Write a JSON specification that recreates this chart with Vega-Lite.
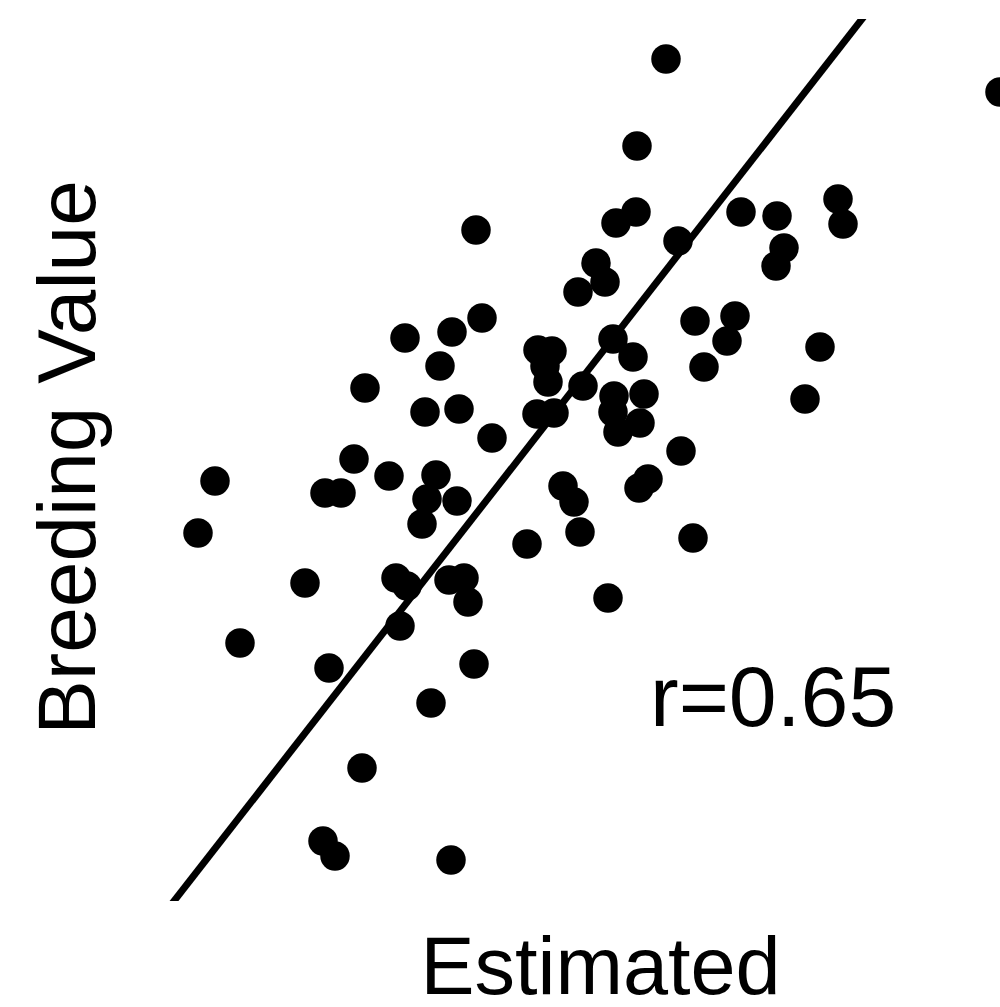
{
  "$schema": "https://vega.github.io/schema/vega-lite/v6.json",
  "autosize": {"type": "none"},
  "width": 834,
  "height": 882,
  "padding": {"left": 166, "top": 19, "right": 0, "bottom": 106},
  "background": "white",
  "config": {"view": {"stroke": null}},
  "layer": [
    {
      "data": {"values": [
        {"est": 0.66, "bv": 4.01}, {"est": 4.00, "bv": 3.68}, {"est": 0.37, "bv": 3.14}, {"est": 2.38, "bv": 2.61},
        {"est": 2.43, "bv": 2.36}, {"est": 1.41, "bv": 2.48}, {"est": 1.77, "bv": 2.44}, {"est": 1.84, "bv": 2.12},
        {"est": 1.76, "bv": 1.94}, {"est": 0.36, "bv": 2.48}, {"est": 0.16, "bv": 2.37}, {"est": 0.78, "bv": 2.19},
        {"est": -1.24, "bv": 2.30}, {"est": -0.04, "bv": 1.97}, {"est": 0.05, "bv": 1.78}, {"est": -0.22, "bv": 1.68},
        {"est": -1.18, "bv": 1.42}, {"est": -1.48, "bv": 1.28}, {"est": -1.95, "bv": 1.22}, {"est": -1.60, "bv": 0.94},
        {"est": -2.35, "bv": 0.72}, {"est": 0.95, "bv": 1.39}, {"est": 1.35, "bv": 1.44}, {"est": 1.27, "bv": 1.19},
        {"est": 1.04, "bv": 0.93}, {"est": 2.20, "bv": 1.13}, {"est": 2.05, "bv": 0.61}, {"est": 0.13, "bv": 1.21},
        {"est": 0.33, "bv": 1.03}, {"est": -0.62, "bv": 1.10}, {"est": -0.48, "bv": 1.09}, {"est": -0.55, "bv": 0.94},
        {"est": -0.52, "bv": 0.78}, {"est": -0.17, "bv": 0.74}, {"est": 0.14, "bv": 0.64}, {"est": 0.44, "bv": 0.66},
        {"est": 0.13, "bv": 0.48}, {"est": 0.40, "bv": 0.37}, {"est": 0.18, "bv": 0.28}, {"est": -0.63, "bv": 0.46},
        {"est": -0.46, "bv": 0.47}, {"est": -1.75, "bv": 0.48}, {"est": -1.41, "bv": 0.51}, {"est": -1.08, "bv": 0.22},
        {"est": -2.46, "bv": 0.01}, {"est": -2.11, "bv": -0.16}, {"est": -1.64, "bv": -0.15}, {"est": -1.73, "bv": -0.39},
        {"est": -1.43, "bv": -0.41}, {"est": -1.78, "bv": -0.64}, {"est": -2.75, "bv": -0.33}, {"est": -2.59, "bv": -0.33},
        {"est": -3.85, "bv": -0.21}, {"est": -4.02, "bv": -0.73}, {"est": 0.81, "bv": 0.09}, {"est": 0.48, "bv": -0.19},
        {"est": 0.39, "bv": -0.28}, {"est": -0.37, "bv": -0.26}, {"est": -0.26, "bv": -0.42}, {"est": -0.20, "bv": -0.72},
        {"est": -0.73, "bv": -0.84}, {"est": 0.93, "bv": -0.78}, {"est": -2.95, "bv": -1.23}, {"est": -2.04, "bv": -1.18},
        {"est": -1.93, "bv": -1.26}, {"est": -1.51, "bv": -1.20}, {"est": -1.36, "bv": -1.18}, {"est": -1.32, "bv": -1.42},
        {"est": 0.08, "bv": -1.38}, {"est": -2.00, "bv": -1.66}, {"est": -3.60, "bv": -1.83}, {"est": -2.71, "bv": -2.08},
        {"est": -1.26, "bv": -2.04}, {"est": -1.69, "bv": -2.43}, {"est": -2.38, "bv": -3.08}, {"est": -2.77, "bv": -3.81},
        {"est": -2.65, "bv": -3.96}, {"est": -1.49, "bv": -4.00}
      ]},
      "mark": {"type": "circle", "size": 870, "opacity": 1, "color": "black"},
      "encoding": {
        "x": {"field": "est", "type": "quantitative", "scale": {"domain": [-4.34, 4.0], "nice": false, "zero": false},
          "axis": {"title": "Estimated", "domain": false, "ticks": false, "labels": false, "grid": false,
            "titleFont": "Liberation Sans", "titleFontSize": 81, "titleFontWeight": "normal", "titleColor": "black",
            "titleX": 434, "titleY": 92, "titleBaseline": "alphabetic", "titleAlign": "center"}},
        "y": {"field": "bv", "type": "quantitative", "scale": {"domain": [-4.41, 4.41], "nice": false, "zero": false},
          "axis": {"title": "Breeding Value", "domain": false, "ticks": false, "labels": false, "grid": false,
            "titleFont": "Liberation Sans", "titleFontSize": 82, "titleFontWeight": "normal", "titleColor": "black",
            "titleAngle": -90, "titleX": -72, "titleY": 438, "titleBaseline": "alphabetic", "titleAlign": "center"}}
      }
    },
    {
      "data": {"values": [{"est": -4.5, "bv": -4.718}, {"est": 3.0, "bv": 4.897}]},
      "mark": {"type": "line", "clip": true, "color": "black", "strokeWidth": 7},
      "encoding": {
        "x": {"field": "est", "type": "quantitative"},
        "y": {"field": "bv", "type": "quantitative"}
      }
    },
    {
      "data": {"values": [{"est": 0.50, "bv": -2.66, "label": "r=0.65"}]},
      "mark": {"type": "text", "font": "Liberation Sans", "fontSize": 86, "align": "left", "baseline": "alphabetic", "color": "black"},
      "encoding": {
        "x": {"field": "est", "type": "quantitative"},
        "y": {"field": "bv", "type": "quantitative"},
        "text": {"field": "label"}
      }
    }
  ]
}
